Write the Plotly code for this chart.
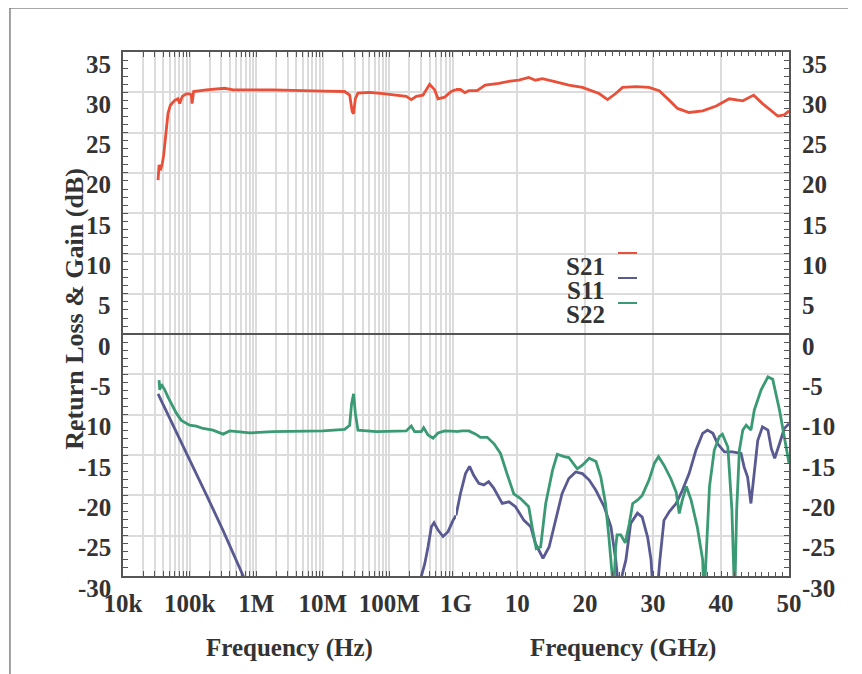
import plotly.graph_objects as go

# ---------------- data ----------------
# Low-frequency part (log axis, Hz)
s21_lf_hz = [3.36e4, 3.48e4, 3.64e4, 3.90e4, 4.08e4, 4.38e4, 4.74e4, 5.14e4, 5.97e4, 6.70e4,
             7.10e4, 7.78e4, 8.93e4, 1.00e5, 1.06e5, 1.09e5, 1.12e5, 1.15e5, 1.78e5, 3.36e5,
             4.49e5, 1.79e6, 1.01e7, 2.13e7, 2.53e7, 2.77e7, 2.90e7, 3.08e7, 3.37e7, 5.05e7,
             8.02e7, 1.79e8, 2.13e8, 2.53e8, 3.19e8, 3.58e8, 4.02e8, 4.79e8, 5.37e8, 6.76e8,
             8.51e8, 1.00e9]
s21_lf_db = [19.1, 21.0, 20.3, 21.2, 22.2, 25.1, 27.4, 28.4, 29.0, 29.2,
             28.6, 29.5, 29.8, 29.8, 29.7, 28.6, 29.9, 30.1, 30.3, 30.5,
             30.3, 30.3, 30.15, 30.1, 29.65, 27.6, 27.35, 29.2, 29.9, 30.0,
             29.85, 29.5, 29.1, 29.5, 29.65, 30.4, 31.0, 30.3, 29.2, 29.4,
             30.1, 30.35]

s11_lf1_hz = [3.36e4, 5.6e4, 1.0e5, 1.78e5, 3.16e5, 6.4e5, 7.4e5]
s11_lf1_db = [-7.4, -11.2, -15.4, -19.9, -24.3, -30.0, -31.2]
s11_lf2_hz = [2.8e8, 3.39e8, 3.80e8, 4.27e8, 4.68e8, 5.37e8, 6.38e8, 7.59e8, 9.02e8, 1.00e9]
s11_lf2_db = [-31.0, -28.5, -26.4, -23.9, -23.4, -24.3, -25.1, -24.5, -23.1, -22.5]

s22_lf_hz = [3.48e4, 3.56e4, 3.77e4, 4.23e4, 4.74e4, 5.32e4, 6.32e4, 7.52e4, 1.0e5, 1.26e5,
             1.59e5, 2.24e5, 3.18e5, 4.0e5, 7.98e5, 1.79e6, 1.01e7, 2.13e7, 2.53e7, 2.71e7,
             2.90e7, 3.08e7, 3.37e7, 6.37e7, 1.79e8, 2.13e8, 2.39e8, 3.01e8, 3.27e8, 3.80e8,
             4.52e8, 5.37e8, 6.76e8, 1.00e9]
s22_lf_db = [-5.7, -6.9, -6.2, -6.9, -7.8, -8.6, -9.8, -10.7, -11.3, -11.4,
             -11.7, -11.9, -12.4, -12.0, -12.25, -12.1, -12.0, -11.8, -11.3, -8.6,
             -7.4, -9.8, -11.9, -12.1, -12.0, -11.4, -12.1, -12.1, -11.6, -12.5,
             -12.9, -12.25, -12.0, -12.05]

# High-frequency part (linear axis, GHz)
s21_hf_ghz = [1.0, 1.65, 2.3, 2.9, 4.1, 5.3, 7.3, 9.0, 10.25, 11.7, 12.7, 13.7, 15.7, 17.6,
              19.6, 21.1, 22.05, 23.3, 24.5, 25.5, 27.5, 29.4, 30.9, 32.4, 33.6, 35.3, 37.3,
              39.3, 41.2, 43.2, 44.8, 46.1, 48.35, 49.3, 50.0]
s21_hf_db = [30.35, 30.35, 29.95, 30.2, 30.2, 30.9, 31.1, 31.4, 31.5, 31.85, 31.5, 31.7, 31.3, 30.9,
             30.6, 30.2, 29.85, 29.1, 29.85, 30.6, 30.7, 30.6, 30.2, 29.0, 28.0, 27.5, 27.7,
             28.3, 29.2, 28.95, 29.65, 28.6, 27.05, 27.2, 27.7]

s11_hf_ghz = [1.0, 1.65, 2.4, 3.0, 3.6, 4.35, 5.1, 5.8, 6.55, 7.8, 8.8, 9.75, 11.0, 12.0, 12.7,
              13.8, 14.7, 15.7, 16.6, 17.6, 18.6, 19.6, 20.6, 21.6, 22.8, 23.8, 24.5, 25.0,
              25.5, 26.0, 26.7, 27.7, 28.4, 29.2, 29.7, 30.0, 30.6, 31.0, 31.6, 32.4, 33.4,
              34.3, 35.3, 36.3, 37.3, 38.0, 38.8, 39.5, 40.5, 41.7, 42.95, 43.4, 43.9, 44.4,
              44.9, 45.4, 46.1, 46.9, 47.4, 47.9, 48.6, 49.3, 50.0]
s11_hf_db = [-22.5, -19.8, -17.3, -16.4, -17.5, -18.5, -18.7, -18.3, -19.1, -21.0, -20.8, -21.4,
             -23.1, -23.9, -26.0, -27.8, -26.4, -23.1, -19.8, -17.9, -17.1, -17.3, -18.1, -19.4,
             -21.4, -23.9, -28.0, -32.0, -29.7, -28.0, -23.5, -22.2, -22.7, -25.2, -28.0, -32.0,
             -32.0, -28.0, -23.1, -22.0, -21.0, -19.4, -17.3, -14.4, -12.3, -11.9, -12.3, -13.6,
             -14.6, -14.6, -14.8, -16.5, -17.7, -21.0, -17.3, -13.2, -11.5, -11.9, -14.2, -15.4,
             -13.6, -11.7, -11.1]

s22_hf_ghz = [1.0, 1.9, 2.9, 3.9, 4.6, 5.6, 6.6, 7.55, 8.5, 9.5, 10.5, 11.7, 12.2, 12.8, 13.45,
              14.2, 15.2, 15.9, 16.9, 17.6, 18.85, 19.6, 20.6, 21.6, 22.3, 23.0, 23.5, 23.9,
              24.2, 24.5, 24.7, 25.25, 25.9, 26.5, 27.0, 27.7, 28.4, 29.4, 30.2, 30.8, 31.6,
              32.6, 33.4, 33.85, 34.3, 34.9, 35.6, 36.5, 37.3, 37.5, 37.8, 38.3, 39.0, 39.75,
              40.2, 41.0, 41.6, 42.0, 42.3, 42.7, 43.2, 43.7, 44.4, 44.9, 45.9, 46.9, 47.6,
              48.6, 49.3, 50.0]
s22_hf_db = [-12.1, -12.0, -12.0, -12.4, -12.8, -12.8, -13.6, -14.8, -17.3, -19.8, -20.4, -21.4,
             -23.9, -26.6, -26.4, -21.0, -16.9, -14.9, -15.2, -15.3, -16.7, -16.25, -15.4, -15.8,
             -17.7, -21.0, -25.2, -29.7, -32.0, -26.4, -24.9, -24.9, -25.9, -23.5, -21.0, -20.6,
             -20.0, -18.1, -16.0, -15.2, -16.25, -17.9, -19.6, -22.25, -20.6, -18.9, -20.6, -23.9,
             -28.0, -33.0, -28.0, -18.9, -14.4, -12.7, -12.4, -14.0, -21.8, -33.0, -21.8, -14.4,
             -11.9, -11.3, -11.9, -9.4, -6.9, -5.3, -5.6, -9.4, -12.7, -16.0]

y_ticks = [35, 30, 25, 20, 15, 10, 5, 0, -5, -10, -15, -20, -25, -30]
lf_tick_labels = ["10k", "100k", "1M", "10M", "100M", "1G"]
hf_ticks = [10, 20, 30, 40, 50]
legend_names = ["S21", "S11", "S22"]

# ---------------- styling ----------------
RED, BLUE, GREEN = "#e8503a", "#5a5a92", "#3a9a74"
GRID = "#dcdcdc"
FRAME = "#555555"
TXT = "#333333"
FONT = dict(family="Liberation Serif", size=25, color=TXT, weight=700)
TITLE_FONT = dict(family="Liberation Serif", size=26, color=TXT, weight=700)
LW = 2.8

fig = go.Figure()

def line(x, y, color, xa, ya):
    fig.add_trace(go.Scatter(x=x, y=y, mode="lines", xaxis=xa, yaxis=ya,
                             line=dict(color=color, width=LW), showlegend=False,
                             hoverinfo="skip"))

line(s11_lf1_hz, s11_lf1_db, BLUE, "x", "y")
line(s11_lf2_hz, s11_lf2_db, BLUE, "x", "y")
line(s22_lf_hz, s22_lf_db, GREEN, "x", "y")
line(s21_lf_hz, s21_lf_db, RED, "x", "y")
line(s11_hf_ghz, s11_hf_db, BLUE, "x2", "y2")
line(s22_hf_ghz, s22_hf_db, GREEN, "x2", "y2")
line(s21_hf_ghz, s21_hf_db, RED, "x2", "y2")

lf_tickvals = [m * 10 ** e for e in range(4, 9) for m in range(1, 10)] + [1e9]
lf_ticktext = []
k = 0
for v in lf_tickvals:
    s = f"{v:.0e}"
    if s.startswith("1e"):
        lf_ticktext.append(lf_tick_labels[k]); k += 1
    else:
        lf_ticktext.append("")

common_x = dict(showgrid=True, gridcolor=GRID, gridwidth=1.5, ticks="inside", ticklen=5,
                tickcolor=FRAME, tickwidth=1, showline=True, linecolor=FRAME, linewidth=1.5,
                mirror="ticks", zeroline=False, tickfont=FONT, ticklabelstandoff=4)

# the page body adds an 8px offset; the figure is sized so the plot area lands where the
# reference has it
fig.update_layout(
    width=854, height=666,
    margin=dict(l=115, r=73, t=44, b=98),
    paper_bgcolor="white", plot_bgcolor="white",
    xaxis=dict(type="log", domain=[0, 0.5], range=[4, 9], tickvals=lf_tickvals,
               ticktext=lf_ticktext, anchor="y", **common_x),
    xaxis2=dict(domain=[0.5, 1], range=[1, 50], tickvals=hf_ticks,
                ticktext=[str(t) for t in hf_ticks], anchor="y2",
                minor=dict(dtick=1, tick0=0, ticks="inside", ticklen=4, tickcolor=FRAME,
                           showgrid=False), **common_x),
    yaxis=dict(range=[-30, 35], dtick=5, tick0=0, anchor="x", side="left",
               showgrid=True, gridcolor=GRID, gridwidth=1.5,
               zeroline=True, zerolinecolor=FRAME, zerolinewidth=1.5,
               ticks="inside", ticklen=5, tickcolor=FRAME, showticklabels=False,
               minor=dict(dtick=1, ticks="inside", ticklen=5, tickcolor=FRAME, showgrid=False),
               showline=True, linecolor=FRAME, linewidth=1.5),
    yaxis2=dict(range=[-30, 35], dtick=5, tick0=0, anchor="x2", overlaying="y", side="right",
                showgrid=True, gridcolor=GRID, gridwidth=1.5,
                zeroline=True, zerolinecolor=FRAME, zerolinewidth=1.5,
                ticks="inside", ticklen=5, tickcolor=FRAME, showticklabels=False,
                minor=dict(dtick=1, ticks="inside", ticklen=5, tickcolor=FRAME, showgrid=False),
                showline=True, linecolor=FRAME, linewidth=1.5),
)

ann = []
for v in y_ticks:
    ann.append(dict(x=0, xref="paper", y=v, yref="y", text=str(v), showarrow=False,
                    xanchor="right", yanchor="middle", xshift=-10, yshift=-12, font=FONT))
    ann.append(dict(x=1, xref="paper", y=v, yref="y", text=str(v), showarrow=False,
                    xanchor="left", yanchor="middle", xshift=11, yshift=-12, font=FONT))

ann.append(dict(x=0.25, xref="paper", y=-0.1374, yref="paper", text="Frequency (Hz)",
                showarrow=False, xanchor="center", yanchor="middle", font=FONT))
ann.append(dict(x=0.75, xref="paper", y=-0.1374, yref="paper", text="Frequency (GHz)",
                showarrow=False, xanchor="center", yanchor="middle", font=FONT))
ann.append(dict(x=-0.072, xref="paper", y=0.51, yref="paper", text="Return Loss & Gain (dB)",
                showarrow=False, textangle=-90, xanchor="center", yanchor="middle",
                font=TITLE_FONT))

# legend (text left, line sample right)
leg_colors = [RED, BLUE, GREEN]
leg_text_y = [0.5916, 0.5458, 0.4981]
leg_line_y = [0.6164, 0.5687, 0.5210]
shapes = []
for name, c, ty, ly in zip(legend_names, leg_colors, leg_text_y, leg_line_y):
    ann.append(dict(x=0.7267, xref="paper", y=ty, yref="paper", text=name, showarrow=False,
                    xanchor="right", yanchor="middle", font=FONT))
    shapes.append(dict(type="line", xref="paper", yref="paper", x0=0.7432, x1=0.7718,
                       y0=ly, y1=ly, line=dict(color=c, width=2)))

# outer figure border (left and top edges of the framed figure)
shapes.append(dict(type="line", xref="paper", yref="paper", x0=-0.1697, x1=-0.1697,
                   y0=1.084, y1=-0.19, line=dict(color="#444444", width=1)))
shapes.append(dict(type="line", xref="paper", yref="paper", x0=-0.1697, x1=1.0886,
                   y0=1.084, y1=1.084, line=dict(color="#444444", width=1)))

fig.update_layout(annotations=ann, shapes=shapes)
fig.write_html("out.html")
